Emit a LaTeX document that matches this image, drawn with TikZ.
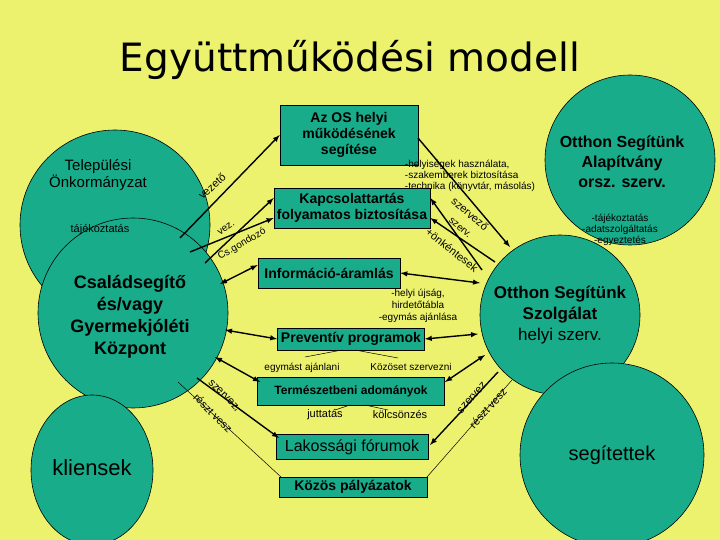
\documentclass[tikz,border=0pt]{standalone}
\usepackage{fontspec}
\usetikzlibrary{shapes.geometric}
\setmainfont{Liberation Sans}
\newfontfamily\titlef{DejaVu Sans}
\begin{document}
\begin{tikzpicture}[x=1pt,y=-1pt,
  circ/.style={circle,fill=teal1,draw=black,line width=0.6pt,align=center},
  box/.style={rectangle,fill=teal1,draw=black,line width=0.6pt,align=center,inner sep=1pt},
  arr/.style={line width=1.4pt,-latex},
  darr/.style={line width=1.4pt,latex-latex},
  thin/.style={line width=0.5pt},
  lab/.style={font=\fontsize{11}{12}\selectfont,align=center,inner sep=0pt},
  slab/.style={font=\fontsize{10}{11}\selectfont,align=left}]
\definecolor{bg}{RGB}{236,242,110}
\definecolor{teal1}{RGB}{24,172,138}
\fill[bg] (0,0) rectangle (720,540);
\useasboundingbox (0,0) rectangle (720,540);
\begin{scope}
\clip (0,0) rectangle (720,540);
\node[circ,minimum size=190pt] (onk) at (115,225) {};
\node[circ,minimum size=190pt] (csal) at (133,313) {};
\node[ellipse,fill=teal1,draw=black,line width=0.6pt,minimum width=122pt,minimum height=150pt] (kli) at (92,470) {};
\node[circ,minimum size=170pt] (alap) at (630,160) {};
\node[circ,minimum size=160pt] (szolg) at (560,315) {};
\node[circ,minimum size=184pt] (seg) at (612,455) {};
\end{scope}
\node[font=\titlef\fontsize{39}{42}\selectfont] (title) at (350,60) {Együttműködési modell};
\node[font=\fontsize{15}{17}\selectfont,align=center] (onkt) at (98,175) {Települési\\Önkormányzat};
\node[font=\bfseries\fontsize{18}{22}\selectfont,align=center] (csalt) at (130,317) {Családsegítő\\és/vagy\\Gyermekjóléti\\Központ};
\node[font=\fontsize{22}{24}\selectfont] (klit) at (92,468) {kliensek};
\node[font=\bfseries\fontsize{16}{20}\selectfont,align=center] (alapt) at (622,162) {Otthon Segítünk\\Alapítvány\\orsz. szerv.};
\node[font=\fontsize{17}{21}\selectfont,align=center] (szolgt) at (560,315) {\textbf{Otthon Segítünk}\\\textbf{Szolgálat}\\helyi szerv.};
\node[font=\fontsize{20}{22}\selectfont] (segt) at (612,455) {segítettek};
\node[lab] (taj) at (100,230) {tájékoztatás};
% boxes
\node[box,font=\bfseries\fontsize{14}{16}\selectfont,minimum width=138pt,minimum height=60pt] (os) at (349,135) {Az OS helyi\\működésének\\segítése};
\node[box,font=\bfseries\fontsize{14}{16}\selectfont,minimum width=156pt,minimum height=40pt] (kap) at (352,208) {Kapcsolattartás\\folyamatos biztosítása};
\node[box,font=\bfseries\fontsize{14}{16}\selectfont,minimum width=142pt,minimum height=30pt] (inf) at (329,273) {Információ-áramlás};
\node[box,font=\bfseries\fontsize{14}{16}\selectfont,minimum width=147pt,minimum height=22pt] (prev) at (351,339) {Preventív programok};
\node[box,font=\bfseries\fontsize{12}{14}\selectfont,minimum width=187pt,minimum height=28pt] (term) at (351,391) {Természetbeni adományok};
\node[box,font=\fontsize{16}{18}\selectfont,minimum width=152pt,minimum height=25pt] (lak) at (352,447) {Lakossági fórumok};
\node[box,font=\bfseries\fontsize{14}{16}\selectfont,minimum width=148pt,minimum height=20pt] (koz) at (353,487) {Közös pályázatok};
% coordinates
\coordinate (a1) at (180,238); \coordinate (a2) at (190,252); \coordinate (a3) at (205,263);
\coordinate (b1) at (418,138); \coordinate (b2) at (510,247);
\coordinate (c1) at (495,262); \coordinate (c2) at (482,270);
\draw[arr] (a1) -- (os.west);
\draw[arr] (a2) -- ([yshift=-10pt]kap.west);
\draw[arr] (a3) -- ([yshift=10pt]kap.west);
\draw[arr] (b1) -- (b2);
\draw[arr] (c1) -- ([yshift=-10pt]kap.east);
\draw[arr] (c2) -- ([yshift=10pt]kap.east);
\draw[darr] (220,284) -- ([yshift=8pt]inf.west);
\draw[darr] (inf.east) -- (480,283);
\draw[darr] (225,330) -- (prev.west);
\draw[darr] (prev.east) -- (478,334);
\draw[darr] (215,357) -- (260,382);
\draw[darr] (445,382) -- (485,355);
\draw[arr] (197,378) -- (279,438);
\draw[arr] (498,372) -- (430,445);
\draw[thin] (178,382) -- (281,477);
\draw[thin] (512,380) -- (427,477);
\draw[thin] (342,350) -- (305,357); \draw[thin] (355,350) -- (398,358);
\draw[thin] (350,405) -- (335,410); \draw[thin] (365,405) -- (388,410);
% labels
\node[lab,rotate=42] at (212,186) {vezető};
\node[lab,rotate=35,font=\fontsize{10}{11}\selectfont] at (226,228) {vez.};
\node[lab,rotate=30,font=\fontsize{10}{11}\selectfont] at (242,244) {Cs.gondozó};
\node[slab] at (470,176) {-helyiségek használata,\\-szakemberek biztosítása\\-technika (könyvtár, másolás)};
\node[lab,rotate=-40] at (470,214) {szervező};
\node[lab,rotate=-40,font=\fontsize{10}{11}\selectfont] at (460,228) {szerv.};
\node[lab,rotate=-38] at (452,250) {+önkéntesek};
\node[slab,align=center] at (620,230) {-tájékoztatás\\-adatszolgáltatás\\-egyeztetés};
\node[lab,font=\fontsize{10}{12}\selectfont] at (418,306) {-helyi újság,\\hirdetőtábla\\-egymás ajánlása};
\node[lab,font=\fontsize{10}{11}\selectfont] at (302,368) {egymást ajánlani};
\node[lab,font=\fontsize{10}{11}\selectfont] at (411,367) {Közöset szervezni};
\node[lab] at (325,415) {juttatás};
\node[lab] at (400,415) {kölcsönzés};
\node[lab,rotate=-45] at (224,396) {szervez,};
\node[lab,rotate=-45] at (213,413) {részt vesz};
\node[lab,rotate=48] at (472,398) {szervez};
\node[lab,rotate=48] at (488,408) {részt vesz};
\end{tikzpicture}
\end{document}
